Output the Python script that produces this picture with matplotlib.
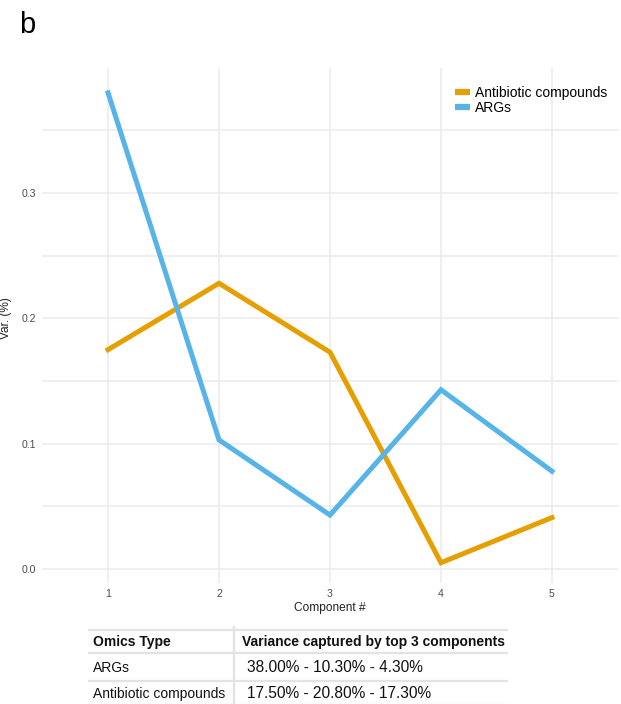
import matplotlib
matplotlib.use("Agg")
import matplotlib.pyplot as plt
from matplotlib.lines import Line2D

plt.rcParams['font.family'] = ['Liberation Sans', 'DejaVu Sans']

# explained variance per component
components = [1, 2, 3, 4, 5]
args_var = [0.380, 0.103, 0.043, 0.143, 0.078]
antibiotic_var = [0.175, 0.228, 0.173, 0.005, 0.041]

series_names = ["Antibiotic compounds", "ARGs"]
series_colors = ["#E69F00", "#56B4E9"]

y_ticks = [0.0, 0.1, 0.2, 0.3]
y_minor = [0.05, 0.15, 0.25, 0.35]

# summary table
table_header = ["Omics Type", "Variance captured by top 3 components"]
omics_types = ["ARGs", "Antibiotic compounds"]
variance_text = ["38.00% - 10.30% - 4.30%", "17.50% - 20.80% - 17.30%"]

W, H = 621, 704
fig = plt.figure(figsize=(W / 100, H / 100), dpi=100)

ax = fig.add_axes([42 / W, 1 - 583 / H, 576 / W, 515 / H])
ax.set_xlim(0.405, 5.595)
ax.set_ylim(-0.0112, 0.3998)

grid_col = "#EBEBEB"
for v in y_ticks + y_minor:
    ax.axhline(v, color=grid_col, lw=1.1, zorder=0)
for c in components:
    ax.axvline(c, color=grid_col, lw=1.1, zorder=0)

ax.plot(components, antibiotic_var, color=series_colors[0], lw=3.6,
        solid_joinstyle='miter', zorder=3)
ax.plot(components, args_var, color=series_colors[1], lw=3.6,
        solid_joinstyle='miter', zorder=3)

ax.set_xticks(components)
ax.set_xticklabels([str(c) for c in components])
ax.set_yticks(y_ticks)
ax.set_yticklabels(["0.0", "0.1", "0.2", "0.3"])
ax.tick_params(length=0, labelsize=7.6, labelcolor="#4D4D4D", pad=4.2)
for s in ax.spines.values():
    s.set_visible(False)
ax.patch.set_alpha(0)

handles = [Line2D([], [], color=col, lw=4.5, solid_capstyle='butt')
           for col in series_colors]
ax.legend(handles, series_names, loc='upper left', frameon=False,
          bbox_to_anchor=(455 / W, 1 - 86 / H), bbox_transform=fig.transFigure,
          borderaxespad=0, borderpad=0, handlelength=1.1, handletextpad=0.35,
          labelspacing=0.05, fontsize=10)

fig.text(330 / W, 1 - 608 / H, "Component #", ha='center', va='center',
         fontsize=8.6, color="#222222")
fig.text(6 / W, 1 - 318 / H, "Var. (%)", ha='center', va='center',
         rotation=90, fontsize=8.6, color="#222222")
fig.text(19 / W, 1 - 33 / H, "b", ha='left', va='baseline', fontsize=21)

# table drawn in pixel coordinates
tab = fig.add_axes([0, 0, 1, 1])
tab.set_xlim(0, W)
tab.set_ylim(H, 0)
tab.axis('off')
tab.patch.set_alpha(0)

line_col = "#E3E3E3"
for yy in [630, 653, 681, 705]:
    tab.plot([89, 507], [yy, yy], color=line_col, lw=1.6)
tab.plot([234, 234], [627, 706], color=line_col, lw=1.6)

tab.text(93, 642, table_header[0], ha='left', va='center', fontsize=10,
         fontweight='bold', color="#111111")
tab.text(242, 642, table_header[1], ha='left', va='center', fontsize=10,
         fontweight='bold', color="#111111")
for yy, name, txt in zip([668, 694], omics_types, variance_text):
    tab.text(93, yy, name, ha='left', va='center', fontsize=10, color="#111111")
    tab.text(247, yy, txt, ha='left', va='center', fontsize=11.2, color="#111111")

fig.savefig("out.png", dpi=100)
